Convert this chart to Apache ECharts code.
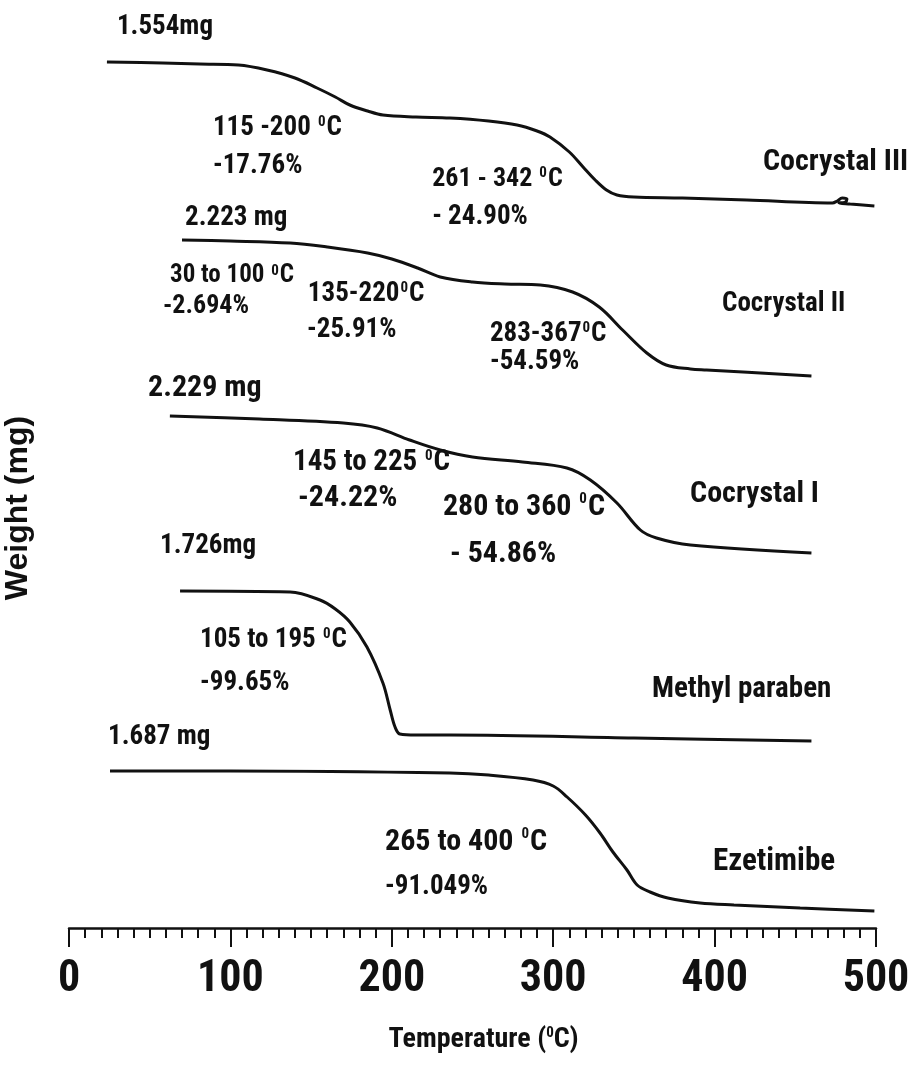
<!DOCTYPE html>
<html>
<head>
<meta charset="utf-8">
<script src="https://cdn.jsdelivr.net/npm/echarts@6/dist/echarts.min.js"></script>
<style>
  html, body { margin: 0; padding: 0; background: #ffffff; }
  #chart { width: 908px; height: 1068px; }
</style>
</head>
<body>
<div id="chart"></div>
<script>
// Stacked TGA traces: temperature (°C) against weight signal, each trace offset vertically.
const tempTicks = [0, 100, 200, 300, 400, 500];

const cocrystalIII = [
  [23.5, 866], [58, 865], [81, 864], [105, 863], [122.7, 858], [140, 850], [153.7, 840],
  [165, 831], [174, 823], [185, 817], [194.5, 813], [215, 811], [236, 810], [260, 807],
  [277.6, 803], [290, 797], [298, 791], [310, 776], [318.5, 761], [326, 748], [333, 738],
  [339.5, 733], [350, 731], [380, 730], [420, 728], [473, 725], [476, 727], [479, 730],
  [482, 729], [481, 726], [477, 725], [484, 724], [499, 722]
];
const cocrystalII = [
  [70, 688], [100, 687], [137, 685], [160, 681], [185, 675], [200, 669], [216, 660],
  [230, 651], [250, 646], [270, 644], [292, 643], [312, 636], [328.5, 621], [343, 598],
  [358, 575], [370, 563], [385, 559], [395, 558], [460, 552]
];
const cocrystalI = [
  [62.5, 512], [118, 509], [170, 505], [191, 500], [211, 488], [230, 478], [250, 471],
  [281, 466], [308.5, 460], [323, 448], [339.5, 425], [354, 398], [364, 390], [385, 383],
  [460, 375]
];
const methylParaben = [
  [68.8, 337], [137, 336], [155.5, 328], [165, 319], [174, 306], [184.6, 281], [194.5, 245],
  [199, 218], [202, 201], [205, 194], [215, 193], [236, 193], [350, 190], [460, 187]
];
const ezetimibe = [
  [25.4, 157], [100, 157], [236, 155], [260, 153], [287.5, 148], [300, 142], [308.6, 131],
  [320, 113], [329, 95], [337, 76], [345.7, 58], [352, 43], [360, 36], [371, 30], [391, 25],
  [412, 23], [453, 20], [499, 17]
];

// Annotation texts ({s|0} renders the raised "0" of the degree sign)
const notes = [
  { text: '1.554mg', at: [29.7, 901], size: 28 },
  { text: '115 -200 {s|0}C', at: [89.2, 800], size: 28 },
  { text: '-17.76%', at: [89.2, 762], size: 28 },
  { text: '261 - 342 {s|0}C', at: [225, 749], size: 27 },
  { text: '- 24.90%', at: [225, 711], size: 28 },
  { text: 'Cocrystal III', at: [430, 766], size: 31 },
  { text: '2.223 mg', at: [71.9, 710], size: 28 },
  { text: '30 to 100 {s|0}C', at: [62.6, 652], size: 26 },
  { text: '-2.694%', at: [58.2, 622], size: 27 },
  { text: '135-220{s|0}C', at: [148, 634], size: 28 },
  { text: '-25.91%', at: [147.5, 598], size: 28 },
  { text: '283-367{s|0}C', at: [260.8, 594], size: 28 },
  { text: '-54.59%', at: [260.8, 566], size: 28 },
  { text: 'Cocrystal II', at: [404.6, 624], size: 28 },
  { text: '2.229 mg', at: [49, 540], size: 31 },
  { text: '145 to 225 {s|0}C', at: [138.8, 465], size: 30 },
  { text: '-24.22%', at: [141.9, 430], size: 31 },
  { text: '280 to 360 {s|0}C', at: [231.7, 421], size: 31 },
  { text: '- 54.86%', at: [236, 374], size: 31 },
  { text: 'Cocrystal I', at: [384.8, 434], size: 31 },
  { text: '1.726mg', at: [56.4, 382], size: 28 },
  { text: '105 to 195 {s|0}C', at: [81.2, 288], size: 28 },
  { text: '-99.65%', at: [81.2, 245], size: 28 },
  { text: 'Methyl paraben', at: [361.2, 238], size: 30 },
  { text: '1.687 mg', at: [24.2, 191], size: 28 },
  { text: '265 to 400 {s|0}C', at: [195.8, 86], size: 31 },
  { text: '-91.049%', at: [195.8, 41], size: 28 },
  { text: 'Ezetimibe', at: [399, 66], size: 32 }
];

// Pick the narrowest installed face and scale type sizes to its width.
const probe = document.createElement('canvas').getContext('2d');
function installed(face) {
  const s = 'mmmmmmmmmlli0123456789WQ';
  return ['monospace', 'serif'].some(base => {
    probe.font = 'bold 60px ' + base;
    const a = probe.measureText(s).width;
    probe.font = "bold 60px '" + face + "', " + base;
    return probe.measureText(s).width !== a;
  });
}
const narrowFace = ['Liberation Sans Narrow', 'Arial Narrow', 'Roboto Condensed', 'Open Sans Condensed',
  'Noto Sans Condensed', 'DejaVu Sans Condensed'].find(installed) || 'sans-serif';
const narrow = "'" + narrowFace + "', sans-serif";
probe.font = 'bold 100px ' + narrow;
const fit = Math.pow(652 / probe.measureText('0123456789%mg').width, 0.65);
const fs = n => Math.round(n * fit);

const ink = '#111111';
const supStyle = { fontSize: fs(16), fontFamily: narrow, fontWeight: 'bold', color: ink, verticalAlign: 'top', padding: [0, 1, 0, 1] };

function trace(name, data) {
  return {
    name: name,
    type: 'line',
    data: data,
    showSymbol: false,
    smooth: 0.35,
    lineStyle: { color: ink, width: 3 },
    silent: true
  };
}

const chart = echarts.init(document.getElementById('chart'), null, { renderer: 'canvas' });
chart.setOption({
  backgroundColor: '#ffffff',
  animation: false,
  grid: { left: 69, right: 32, top: 8, bottom: 140, outerBoundsMode: 'none', containLabel: false },
  xAxis: {
    type: 'value',
    min: tempTicks[0],
    max: tempTicks[tempTicks.length - 1],
    interval: tempTicks[1] - tempTicks[0],
    axisLine: { show: true, onZero: false, lineStyle: { color: ink, width: 2.5 } },
    axisTick: { show: true, inside: false, length: 19, lineStyle: { color: ink, width: 2 } },
    minorTick: { show: true, splitNumber: 10, length: 10, lineStyle: { color: ink, width: 2 } },
    splitLine: { show: false },
    minorSplitLine: { show: false },
    axisLabel: { fontSize: fs(46), fontWeight: 'bold', fontFamily: narrow, color: ink, margin: 30 },
    name: 'Temperature ({s|0}C)',
    nameLocation: 'middle',
    nameGap: 98,
    nameTextStyle: {
      fontSize: fs(29), fontWeight: 'bold', fontFamily: narrow, color: ink,
      padding: [0, 0, 0, 22],
      rich: { s: { fontSize: fs(16), fontFamily: narrow, fontWeight: 'bold', color: ink, verticalAlign: 'top' } }
    }
  },
  yAxis: {
    type: 'value',
    min: 0,
    max: 920,
    axisLine: { show: false },
    axisTick: { show: false },
    axisLabel: { show: false },
    splitLine: { show: false },
    name: 'Weight (mg)',
    nameLocation: 'middle',
    nameRotate: 90,
    nameGap: 35,
    nameTextStyle: {
      fontSize: 32, fontWeight: 'bold', fontFamily: "'Liberation Sans', Arial, sans-serif", color: ink,
      padding: [0, 80, 0, 0]
    }
  },
  series: [
    trace('Cocrystal III', cocrystalIII),
    trace('Cocrystal II', cocrystalII),
    trace('Cocrystal I', cocrystalI),
    trace('Methyl paraben', methylParaben),
    trace('Ezetimibe', ezetimibe),
    {
      name: 'notes',
      type: 'scatter',
      symbolSize: 0,
      silent: true,
      z: 5,
      itemStyle: { opacity: 1 },
      label: {
        show: true,
        position: 'right',
        distance: 0,
        color: ink,
        opacity: 1,
        fontWeight: 'bold',
        fontFamily: narrow,
        rich: { s: supStyle }
      },
      data: notes.map(n => ({
        value: n.at,
        label: { formatter: n.text, fontSize: fs(n.size), color: ink }
      }))
    }
  ]
});
</script>
</body>
</html>
